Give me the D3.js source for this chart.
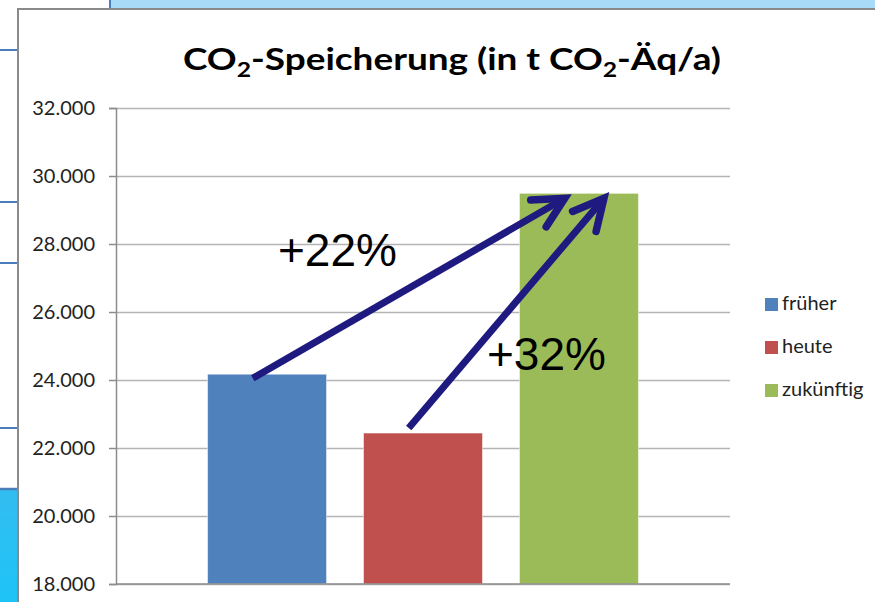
<!DOCTYPE html>
<html>
<head>
<meta charset="utf-8">
<script src="https://cdn.jsdelivr.net/npm/d3@7"></script>
<style>
  body { margin: 0; background: #fff; }
</style>
</head>
<body>
<script>
const W = 875
const H = 602
const plot = { left: 116, right: 730, top: 108, bottom: 584 }

// data
const series = ['früher', 'heute', 'zukünftig']
const values = [24170, 22440, 29490]
const colors = ['#4f81bd', '#c0504d', '#9bbb59']
const yTicks = [18000, 20000, 22000, 24000, 26000, 28000, 30000, 32000]
const changeLabels = ['+22%', '+32%']
// arrows go from a bar to the "zukünftig" bar
const arrowFrom = ['früher', 'heute']

const de = d3.formatLocale({ decimal: ',', thousands: '.', grouping: [3], currency: ['', ' €'] })
const fmt = de.format(',d')
const font = 'Lato, "Open Sans", sans-serif'

const svg = d3.select('body').append('svg')
  .attr('width', W)
  .attr('height', H)
  .style('font-family', 'sans-serif')

// slide background bits behind the chart
svg.append('rect').attr('x', 109).attr('y', 0).attr('width', W - 109).attr('height', 9).attr('fill', '#a7dbf7')
svg.append('line').attr('x1', 110).attr('x2', 110).attr('y1', 0).attr('y2', 9).attr('stroke', '#4a7ebb').attr('stroke-width', 2)
const leftGrad = svg.append('defs').append('linearGradient').attr('id', 'cyan').attr('x1', 0).attr('x2', 0).attr('y1', 0).attr('y2', 1)
leftGrad.append('stop').attr('offset', 0).attr('stop-color', '#33bdf0')
leftGrad.append('stop').attr('offset', 1).attr('stop-color', '#1ec3f6')
svg.append('rect').attr('x', 0).attr('y', 489).attr('width', 17).attr('height', H - 489).attr('fill', 'url(#cyan)')
svg.append('line').attr('x1', 0).attr('x2', 17).attr('y1', 489).attr('y2', 489).attr('stroke', '#4a7ebb').attr('stroke-width', 2.5)
;[50, 202, 263, 428].forEach(yy => {
  svg.append('line').attr('x1', 0).attr('x2', 17).attr('y1', yy).attr('y2', yy).attr('stroke', '#4a7ebb').attr('stroke-width', 2)
})

// chart frame
svg.append('rect')
  .attr('x', 18).attr('y', 9)
  .attr('width', W).attr('height', H)
  .attr('fill', '#fff')
  .attr('stroke', '#8a8a8a')
  .attr('stroke-width', 2)

const y = d3.scaleLinear().domain([18000, 32000]).range([plot.bottom, plot.top])
const x = d3.scaleBand().domain(series).range([plot.left, plot.right])
  .paddingInner(0.237).paddingOuter(0.587)

// gridlines
svg.append('g')
  .attr('transform', `translate(${plot.left},0)`)
  .call(d3.axisLeft(y).tickValues(yTicks).tickSize(-(plot.right - plot.left)).tickFormat(''))
  .call(g => g.select('.domain').remove())
  .call(g => g.selectAll('.tick line').attr('stroke', '#b4b4b4').attr('stroke-width', 1.5))

// y axis
svg.append('g')
  .attr('transform', `translate(${plot.left},0)`)
  .call(d3.axisLeft(y).tickValues(yTicks).tickSize(7).tickPadding(14).tickFormat(fmt))
  .call(g => g.select('.domain').attr('stroke', '#8c8c8c').attr('stroke-width', 1.5))
  .call(g => g.selectAll('.tick line').attr('stroke', '#8c8c8c').attr('stroke-width', 1.5))
  .call(g => g.selectAll('text')
    .style('font-family', font)
    .style('font-size', '20px')
    .attr('fill', '#222'))

// bars
svg.append('g')
  .selectAll('rect')
  .data(series)
  .join('rect')
  .attr('x', d => x(d))
  .attr('width', x.bandwidth())
  .attr('y', (d, i) => y(values[i]))
  .attr('height', (d, i) => y(18000) - y(values[i]))
  .attr('fill', (d, i) => colors[i])
  .attr('stroke', '#ffffff')
  .attr('stroke-opacity', 0.5)
  .attr('stroke-width', 1)

// category axis line
svg.append('line')
  .attr('x1', plot.left).attr('x2', plot.right)
  .attr('y1', y(18000)).attr('y2', y(18000))
  .attr('stroke', '#8c8c8c').attr('stroke-width', 1.5)

// title
const title = svg.append('text')
  .attr('x', 452)
  .attr('y', 70)
  .attr('text-anchor', 'middle')
  .style('font-family', font)
  .style('font-weight', 'bold')
  .style('font-size', '30px')
  .attr('fill', '#000')
title.append('tspan').text('CO')
title.append('tspan').text('2').attr('dy', 7).style('font-size', '20px')
title.append('tspan').text('-Speicherung (in t CO').attr('dy', -7)
title.append('tspan').text('2').attr('dy', 7).style('font-size', '20px')
title.append('tspan').text('-Äq/a)').attr('dy', -7)
const tw = title.node().getComputedTextLength()
if (tw > 0) title.attr('textLength', 538).attr('lengthAdjust', 'spacingAndGlyphs')

// legend
const legend = svg.append('g')
  .selectAll('g')
  .data(series)
  .join('g')
  .attr('transform', (d, i) => `translate(765,${298 + i * 43})`)
legend.append('rect')
  .attr('width', 13).attr('height', 13)
  .attr('fill', (d, i) => colors[i])
legend.append('text')
  .attr('x', 17).attr('y', 12)
  .text(d => d)
  .style('font-family', font)
  .style('font-size', '20px')
  .attr('fill', '#222')

// arrows
const arrowColor = '#1f1a80'
const target = series.length - 1
const tipOffset = [0.38, 0.71]
const startOffset = [0.38, 0.38]
arrowFrom.forEach((s, i) => {
  const si = series.indexOf(s)
  const x0 = x(s) + x.bandwidth() * startOffset[i]
  const y0 = y(values[si]) + (i === 0 ? 4 : -5)
  const x1 = x(series[target]) + x.bandwidth() * tipOffset[i]
  const y1 = y(values[target]) + 5
  const ang = Math.atan2(y1 - y0, x1 - x0)
  const len = 34
  const spread = 27 * Math.PI / 180
  const a1 = [x1 - len * Math.cos(ang - spread), y1 - len * Math.sin(ang - spread)]
  const a2 = [x1 - len * Math.cos(ang + spread), y1 - len * Math.sin(ang + spread)]
  svg.append('line')
    .attr('x1', x0).attr('y1', y0)
    .attr('x2', x1 - 3 * Math.cos(ang)).attr('y2', y1 - 3 * Math.sin(ang))
    .attr('stroke', arrowColor).attr('stroke-width', 7)
  svg.append('path')
    .attr('d', d3.line()([a1, [x1, y1], a2]))
    .attr('fill', 'none')
    .attr('stroke', arrowColor).attr('stroke-width', 7.5)
    .attr('stroke-linecap', 'round')
    .attr('stroke-linejoin', 'miter')
})

// change labels
svg.append('g')
  .selectAll('text')
  .data(changeLabels)
  .join('text')
  .attr('x', (d, i) => [278, 487][i])
  .attr('y', (d, i) => [266, 370][i])
  .text(d => d)
  .style('font-family', '"Liberation Sans", Arial, sans-serif')
  .style('font-size', '46px')
  .attr('fill', '#000')
</script>
</body>
</html>
